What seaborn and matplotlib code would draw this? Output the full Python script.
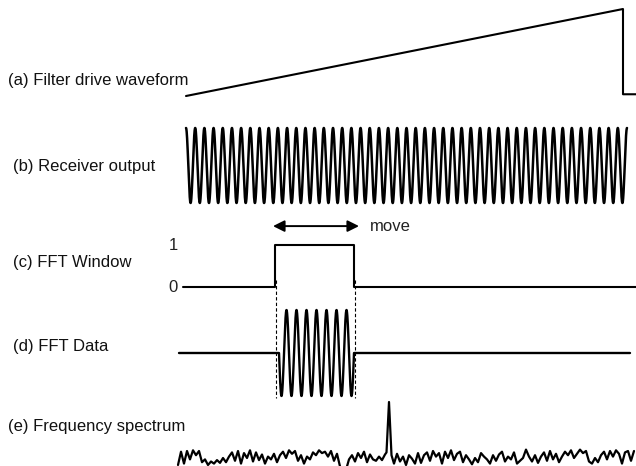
import numpy as np
import matplotlib
matplotlib.use('Agg')
import matplotlib.pyplot as plt
import seaborn as sns

sns.set_theme(style='white')
plt.rcParams['font.family'] = ['Liberation Sans', 'DejaVu Sans']

W, H = 636, 466

# ---- data (time axis in the same units for all panels) ----
labels = ['(a) Filter drive waveform', '(b) Receiver output', '(c) FFT Window',
          '(d) FFT Data', '(e) Frequency spectrum']
label_x = [8, 13, 13, 13, 8]
label_y = [81, 167, 262, 346, 427]

ramp_t = [186, 623, 623, 636]
ramp_v = [0.0, 1.0, 0.02, 0.02]

rx_start, rx_end, rx_cycles = 186, 627, 48

win_t = [183, 275, 275, 354, 354, 636]
win_v = [0, 0, 1, 1, 0, 0]
win_ticks = [0, 1]

data_t = [179, 279, 354, 630]          # baseline start, burst start, burst end, baseline end
burst_cycles = 7.5
dash_t = [275.5, 355]

noise_v = [0.10, 0.29, 0.12, 0.30, 0.18, 0.31, 0.24, 0.30, 0.14, 0.18,
           0.10, 0.15, 0.12, 0.17, 0.13, 0.20, 0.14, 0.22, 0.28, 0.16,
           0.30, 0.12, 0.27, 0.20, 0.31, 0.15, 0.28, 0.17, 0.25, 0.12,
           0.22, 0.18, 0.26, 0.14, 0.24, 0.29, 0.20, 0.31, 0.26, 0.30,
           0.16, 0.24, 0.12, 0.22, 0.18, 0.28, 0.24, 0.31, 0.27, 0.29,
           0.22, 0.30, 0.16, 0.26, 0.08, 0.02, 0.03, 0.18, 0.24, 0.15,
           0.27, 0.20, 0.29, 0.14, 0.25, 0.18, 0.16, 0.22, 0.17, 0.25,
           0.30, 0.24, 0.12, 0.26, 0.15, 0.22, 0.10, 0.24, 0.19, 0.12,
           0.27, 0.13, 0.24, 0.28, 0.16, 0.30, 0.22, 0.27, 0.12, 0.29,
           0.20, 0.31, 0.17, 0.26, 0.29, 0.14, 0.24, 0.18, 0.11, 0.20,
           0.14, 0.27, 0.22, 0.18, 0.12, 0.24, 0.16, 0.25, 0.29, 0.15,
           0.22, 0.18, 0.28, 0.12, 0.16, 0.20, 0.32, 0.22, 0.15, 0.24,
           0.13, 0.22, 0.28, 0.16, 0.30, 0.18, 0.26, 0.14, 0.22, 0.29,
           0.24, 0.31, 0.20, 0.26, 0.32, 0.27, 0.30, 0.15, 0.12, 0.20,
           0.14, 0.24, 0.29, 0.18, 0.30, 0.22, 0.31, 0.26, 0.12, 0.28,
           0.30, 0.16, 0.30]
noise_t0, noise_t1 = 178, 634
spike_t = [386.5, 389, 391.5]
spike_v = [0.28, 1.0, 0.24]

LW = 1.5
fig = plt.figure(figsize=(W / 100, H / 100), dpi=100)


def panel(top, bottom, ylim):
    ax = fig.add_axes([0, 1 - bottom / H, 1, (bottom - top) / H])
    ax.set_xlim(0, W)
    ax.set_ylim(*ylim)
    ax.axis('off')
    return ax


def line(ax, x, y, **kw):
    sns.lineplot(x=np.asarray(x, float), y=np.asarray(y, float), sort=False,
                 estimator=None, color='black', lw=kw.pop('lw', LW), ax=ax, **kw)
    for l in ax.lines:
        l.set_clip_on(False)


# (a) ramp
ax = panel(9, 96, (0, 1))
line(ax, ramp_t, ramp_v)

# (b) receiver output
ax = panel(128, 203, (-1, 1))
tb = np.linspace(rx_start, rx_end, 6000)
line(ax, tb, np.cos(2 * np.pi * rx_cycles * (tb - rx_start) / (rx_end - rx_start)), lw=1.8)

# (c) FFT window
ax = panel(245, 287, (0, 1))
line(ax, win_t, win_v)
for v in win_ticks:
    ax.text(173, v, str(v), ha='center', va='center', fontsize=12, color='#222222')
ax.annotate('', xy=(359, 1.45), xytext=(273, 1.45), annotation_clip=False,
            arrowprops=dict(arrowstyle='<|-|>', color='black', lw=1.4,
                            mutation_scale=17, shrinkA=0, shrinkB=0))
ax.text(370, 1.45, 'move', ha='left', va='center', fontsize=12, color='#222222')

# (d) FFT data
ax = panel(310, 396, (-1, 1))
tin = np.linspace(data_t[1], data_t[2], 1500)
burst = -np.sin(2 * np.pi * burst_cycles * (tin - data_t[1]) / (data_t[2] - data_t[1]))
line(ax, np.r_[data_t[0], tin, data_t[3]], np.r_[0, burst, 0], lw=1.7)
for t in dash_t:
    ax.plot([t, t], [1.7, -1.05], color='black', lw=0.8, ls=(0, (3, 2)), clip_on=False)

# (e) spectrum
ax = panel(402, 472, (0, 1))
nt = np.linspace(noise_t0, noise_t1, len(noise_v))
keep = np.abs(nt - spike_t[1]) > 2.6
st = np.r_[nt[keep], spike_t]
sv = np.r_[np.array(noise_v)[keep], spike_v]
order = np.argsort(st)
line(ax, st[order], sv[order], lw=1.6)

for s, x, y in zip(labels, label_x, label_y):
    fig.text(x / W, 1 - y / H, s, ha='left', va='center', fontsize=12, color='#111111')

fig.savefig('out.png', dpi=100)
